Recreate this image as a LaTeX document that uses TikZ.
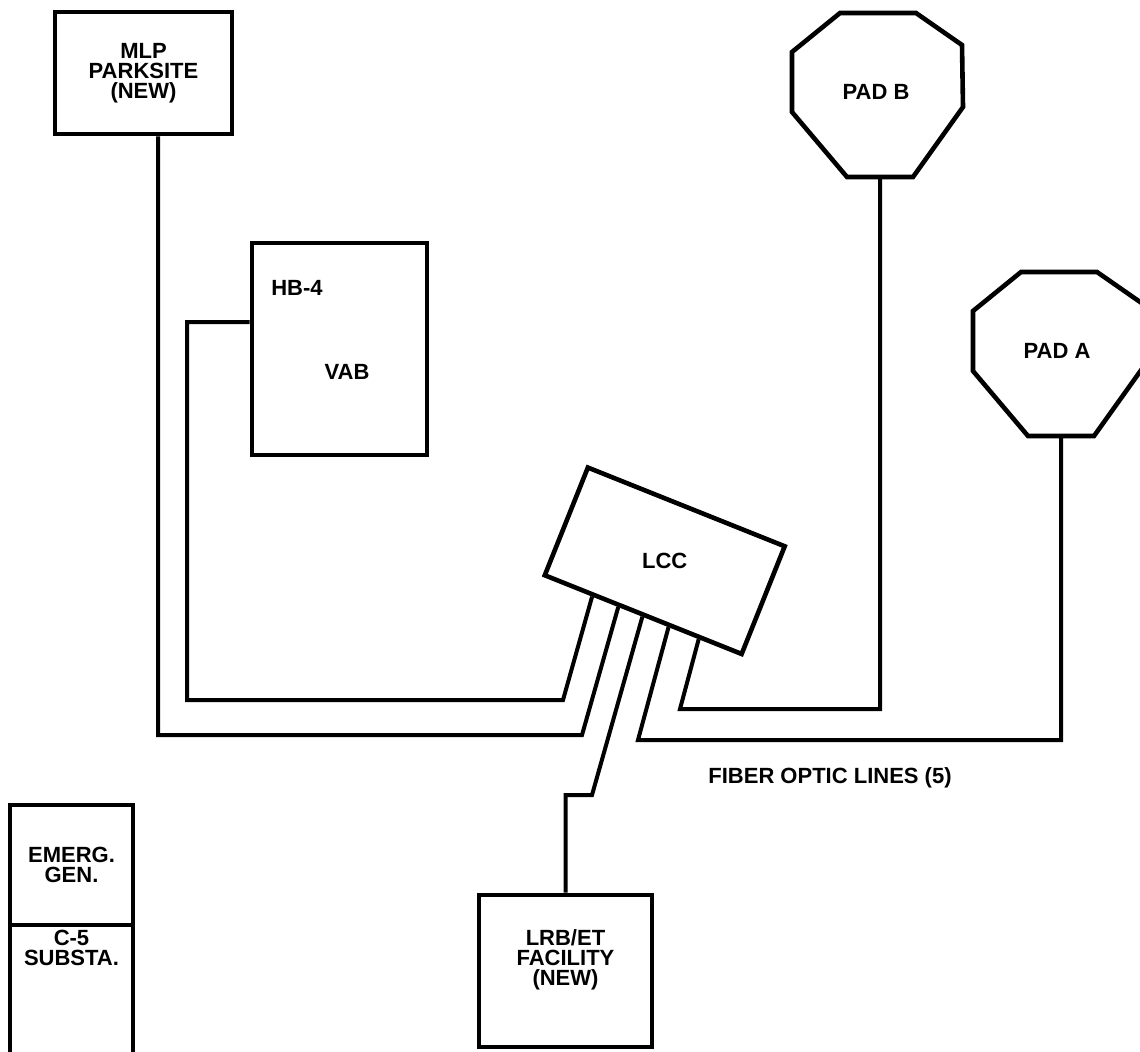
\documentclass[tikz,border=0pt]{standalone}
\usepackage{fontspec}
\setmainfont{Liberation Sans}
\usetikzlibrary{positioning, calc}

\tikzset{
  box/.style={draw, line width=2.3pt, align=center, inner sep=0pt},
  cable/.style={line width=2pt},
  txt/.style={align=center, inner sep=0pt},
  pics/pad/.style={code={
    \draw[line width=2.3pt] (48,0) -- (124,0) -- (170,32) -- (171,94) -- (121,164)
      -- (55,164) -- (0,99) -- (0,39) -- cycle;
    \node[txt] (-lbl) at (84,79) {#1};
    \coordinate (-foot) at (88,164);
  }}
}

\begin{document}
\begin{tikzpicture}[x=0.5pt, y=-0.5pt, font=\fontsize{11}{10}\selectfont\bfseries]
    \useasboundingbox (0,0) rectangle (1140,1051);
    \clip (0,0) rectangle (1140,1051);
    \fill[white] (0,0) rectangle (1140,1051);

    % Buildings
    \node[box, minimum width=88.5pt, minimum height=61pt] (mlp) at (143.5,73) {MLP\\PARKSITE\\(NEW)};
    \node[box, minimum width=87.5pt, minimum height=106pt] (vab) at (339.5,349) {};
    \node[txt] (hb4) at (297,288) {HB-4};
    \node[txt] (vabtxt) at (347,372) {VAB};
    \node[box, rotate=-21.8, minimum width=106pt, minimum height=58pt] (lcc) at (664.75,560.75) {\rotatebox{21.8}{LCC}};
    \node[box, minimum width=86.5pt, minimum height=76pt] (lrb) at (565.5,971) {};
    \node[txt] (lrbtxt) at (565.5,960) {LRB/ET\\FACILITY\\(NEW)};

    % Pads
    \pic (padb) at (792,13) {pad={PAD B}};
    \pic (pada) at (973,272) {pad={PAD A}};

    % Substation
    \node[box, minimum width=61.5pt, minimum height=60pt] (emerg) at (71.5,865) {EMERG.\\GEN.};
    \node[box, minimum width=61.5pt, minimum height=70pt] (substa) at (71.5,995) {};
    \node[txt] (substatxt) at (71.5,948) {C-5\\SUBSTA.};

    % Cable exits on the LCC
    \coordinate (lccvab) at ($(lcc.south west)!0.25!(lcc.south east)$);
    \coordinate (lccmlp) at ($(lcc.south west)!0.38!(lcc.south east)$);
    \coordinate (lcclrb) at ($(lcc.south west)!0.5!(lcc.south east)$);
    \coordinate (lccpada) at ($(lcc.south west)!0.63!(lcc.south east)$);
    \coordinate (lccpadb) at ($(lcc.south west)!0.78!(lcc.south east)$);

    % Fiber optic lines
    \draw[cable] (lccvab) -- (563,700) -| (187,322) -- (vab.west |- 0,322);
    \draw[cable] (lccmlp) -- (582,735) -| (mlp.south -| 158,0);
    \draw[cable] (lcclrb) -- (592,795) -| (lrb.north);
    \draw[cable] (lccpada) -- (638,740) -| (pada-foot);
    \draw[cable] (lccpadb) -- (680,709) -| (padb-foot);

    \node[txt] (fiber) at (830,778) {FIBER OPTIC LINES (5)};
\end{tikzpicture}
\end{document}
